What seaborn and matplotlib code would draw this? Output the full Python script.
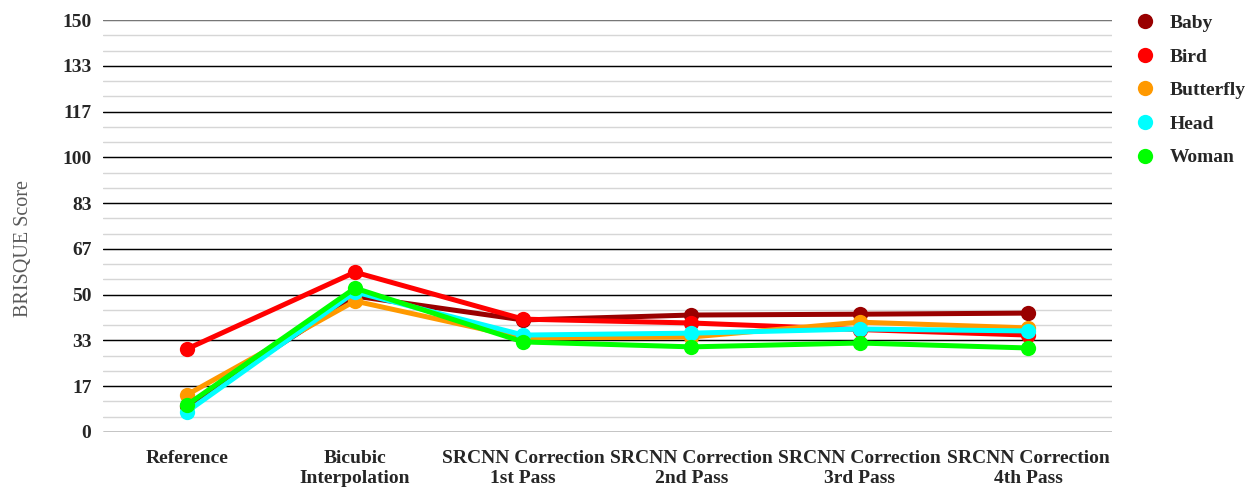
import numpy as np
import pandas as pd
import matplotlib
matplotlib.use('Agg')
import matplotlib.pyplot as plt
from matplotlib.lines import Line2D
from matplotlib.ticker import FixedLocator, FuncFormatter
import seaborn as sns

# Dados
stages = ['Reference', 'Bicubic\nInterpolation', 'SRCNN Correction\n1st Pass',
          'SRCNN Correction\n2nd Pass', 'SRCNN Correction\n3rd Pass', 'SRCNN Correction\n4th Pass']
images = ['Baby', 'Bird', 'Butterfly', 'Head', 'Woman']
baby = [9.5, 49.5, 40.8, 42.6, 42.9, 43.3]
bird = [30.2, 58.2, 41.1, 39.7, 37.3, 35.3]
butterfly = [13.5, 47.7, 34.2, 34.6, 40.0, 37.9]
head = [7.3, 51.0, 35.3, 36.0, 37.5, 36.8]
woman = [9.8, 52.4, 32.8, 31.0, 32.4, 30.6]
colors = ['#990000', '#ff0000', '#ff9900', '#00ffff', '#00ff00']

series = [baby, bird, butterfly, head, woman]
data = pd.DataFrame({
    'Stage': stages * len(images),
    'Image': np.repeat(images, len(stages)),
    'Score': np.concatenate(series),
})
data['Stage'] = pd.Categorical(data['Stage'], categories=stages, ordered=True)

sns.set_style('white')
plt.rcParams['font.family'] = ['Liberation Serif', 'DejaVu Serif']

fig = plt.figure(figsize=(12.51, 4.92), dpi=100)
ax = fig.add_axes([0.082, 0.122, 0.807, 0.837])

# Linhas de grade: principais pretas, secundárias cinza
major = np.linspace(0, 150, 10)
minor = np.linspace(0, 150, 28)
for v in minor:
    ax.axhline(v, color='#d6d6d6', lw=1.0, zorder=0)
for v in major:
    ax.axhline(v, color='#777777' if v == 150 else 'black', lw=1.0, zorder=0.5)

palette = dict(zip(images, colors))
sns.lineplot(data=data, x='Stage', y='Score', hue='Image', hue_order=images,
             palette=palette, marker='o', markersize=11, markeredgewidth=0,
             linewidth=3.6, sort=False, legend=False, ax=ax, zorder=3)

ax.set_xlim(-0.5, len(stages) - 0.5)
ax.set_ylim(0, 150)
ax.yaxis.set_major_locator(FixedLocator(major))
ax.yaxis.set_major_formatter(FuncFormatter(lambda v, p: f'{v:.0f}'))
ax.set_xticks(range(len(stages)))
ax.set_xticklabels(stages, fontsize=14, fontweight='bold', linespacing=1.2)
for lab in ax.get_yticklabels():
    lab.set_fontsize(14)
    lab.set_fontweight('bold')
ax.tick_params(axis='y', length=0, pad=8)
ax.tick_params(axis='x', length=0, pad=13)
ax.set_xlabel('')
ax.set_ylabel('BRISQUE Score', fontsize=14.5, color='#595959')
ax.yaxis.set_label_coords(-0.069, 0.445)
for s in ax.spines.values():
    s.set_visible(False)

handles = [Line2D([], [], linestyle='none', marker='o', markersize=11,
                  markeredgewidth=0, color=c) for c in colors]
leg = ax.legend(handles, images, loc='upper left', frameon=False, handletextpad=0.3,
                labelspacing=0.82, prop={'size': 14, 'weight': 'bold'})
# mover a legenda para a direita do eixo
leg.set_bbox_to_anchor((0.8855, 1.006), transform=fig.transFigure)

fig.savefig('out.png', dpi=100)
